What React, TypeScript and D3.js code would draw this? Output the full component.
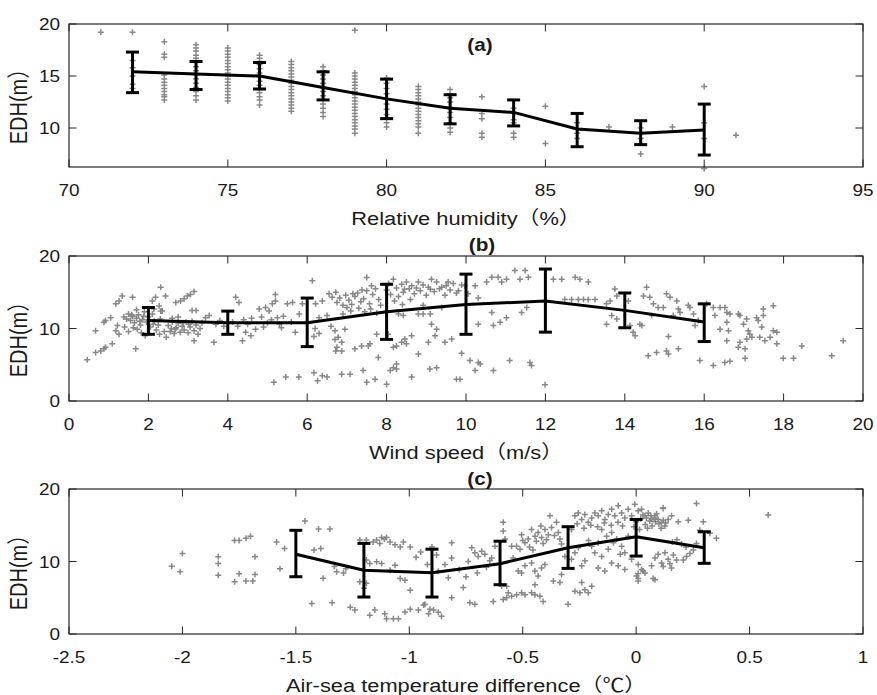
import React from "react";
import * as d3 from "d3";

// ---------- Panel (a): relative humidity ----------
const rhTicks = [70, 75, 80, 85, 90, 95];
const rhYTicks = [10, 15, 20];
const rhBinX = [72, 74, 76, 78, 80, 82, 84, 86, 88, 90];
const rhMean = [15.4, 15.2, 15.0, 13.9, 12.8, 11.9, 11.5, 9.9, 9.5, 9.8];
const rhUpper = [17.3, 16.4, 16.3, 15.4, 14.7, 13.2, 12.7, 11.4, 10.7, 12.3];
const rhLower = [13.4, 13.7, 13.75, 12.7, 10.9, 10.4, 10.2, 8.2, 8.4, 7.4];
const rhColumns: [number, number[]][] = [
  [71, [19.2]],
  [72, [19.2, 16.5, 15.8, 15.0, 14.2, 13.8]],
  [73, [18.3, 17.1, 16.8, 15.1, 14.7, 14.4, 14.1, 13.8, 13.5, 13.2, 13.0, 12.7]],
  [74, [18.0, 17.7, 17.4, 17.0, 16.7, 16.3, 15.9, 15.5, 15.1, 14.7, 14.3, 13.9, 13.5, 13.1, 12.7]],
  [75, [17.7, 17.4, 17.1, 16.8, 16.5, 16.2, 15.9, 15.6, 15.3, 15.0, 14.7, 14.4, 14.1, 13.8, 13.5, 13.2, 12.9, 12.6]],
  [76, [17.0, 16.7, 16.4, 16.1, 15.7, 15.3, 14.9, 14.5, 14.1, 13.7, 13.4, 13.0, 12.7, 12.2]],
  [77, [16.4, 16.1, 15.8, 15.5, 15.2, 14.9, 14.6, 14.3, 14.0, 13.7, 13.4, 13.1, 12.8, 12.5, 12.2, 11.9, 11.6]],
  [78, [15.9, 15.5, 15.1, 14.7, 14.3, 13.9, 13.5, 13.1, 12.7, 12.3, 11.9, 11.5, 11.1]],
  [79, [19.4, 15.3, 15.0, 14.7, 14.4, 14.1, 13.8, 13.5, 13.2, 12.9, 12.6, 12.3, 12.0, 11.7, 11.4, 11.1, 10.8, 10.5, 10.2, 9.9, 9.5]],
  [80, [14.8, 14.3, 13.8, 13.3, 12.8, 12.3, 11.8, 11.3, 10.9, 10.5, 10.1]],
  [81, [14.0, 13.7, 13.4, 13.1, 12.8, 12.5, 12.2, 11.9, 11.6, 11.3, 11.0, 10.7, 10.4, 10.1, 9.5]],
  [82, [13.7, 13.3, 12.9, 12.5, 12.0, 11.5, 11.0, 10.5, 10.0, 9.6]],
  [83, [13.0, 11.4, 10.9, 9.5, 9.1]],
  [84, [11.9, 10.8, 10.5, 9.5, 9.1]],
  [85, [12.1, 8.5]],
  [86, [10.5, 9.5, 9.0]],
  [87, [10.1]],
  [88, [7.5, 10.0, 9.0]],
  [89, [10.1]],
  [90, [14.0, 6.1, 10.5, 9.0]],
  [91, [9.3]],
];

// ---------- Panel (b): wind speed ----------
const wsTicks = [0, 2, 4, 6, 8, 10, 12, 14, 16, 18, 20];
const wsYTicks = [0, 10, 20];
const wsBinX = [2, 4, 6, 8, 10, 12, 14, 16];
const wsMean = [11.1, 10.8, 10.8, 12.3, 13.3, 13.8, 12.5, 10.9];
const wsUpper = [12.9, 12.4, 14.2, 16.1, 17.5, 18.2, 14.9, 13.4];
const wsLower = [9.2, 9.2, 7.5, 8.5, 9.2, 9.5, 10.1, 8.2];
const wsPoints: [number, number][] = [
  [0.46, 5.7], [0.67, 6.7], [0.8, 6.9], [0.88, 7.2], [0.92, 7.4], [1.09, 7.9], [0.67, 9.7], [0.88, 10.85], [0.92, 11.1], [1.05, 11.5],
  [1.18, 9.7], [1.22, 10.4], [1.26, 9.2], [1.18, 13.4], [1.26, 13.8], [1.34, 14.5], [1.6, 14.3],
  [1.38, 11.6], [1.45, 11.3], [1.5, 12.0], [1.55, 11.1], [1.6, 11.7], [1.65, 10.8], [1.7, 11.4], [1.75, 11.9], [1.8, 10.5], [1.85, 11.2],
  [1.9, 12.3], [1.95, 10.9], [2.0, 11.6], [2.05, 10.2], [2.1, 12.0], [2.15, 11.0], [2.2, 9.8], [1.4, 10.2], [1.5, 9.6], [1.62, 10.1],
  [1.72, 9.9], [1.82, 9.4], [1.92, 9.0], [2.25, 10.5], [2.3, 11.3], [2.35, 12.4], [2.4, 9.6], [1.68, 7.2], [1.7, 12.6], [1.58, 11.9],
  [1.78, 11.0], [1.88, 11.7], [2.12, 10.6], [2.28, 9.2],
  [2.1, 13.8], [2.18, 14.3], [2.31, 15.7], [2.43, 14.5], [2.14, 12.7], [2.27, 13.1], [2.31, 12.4],
  [2.69, 13.6], [2.81, 13.8], [2.9, 14.1], [2.98, 14.5], [3.06, 14.7], [3.15, 15.1],
  [2.5, 10.4], [2.55, 9.6], [2.6, 10.9], [2.65, 9.3], [2.7, 10.1], [2.75, 10.7], [2.8, 9.5], [2.85, 10.3], [2.9, 9.8], [2.95, 10.9],
  [3.0, 9.4], [3.05, 10.2], [3.1, 11.0], [3.15, 9.7], [3.2, 10.5], [3.25, 9.2], [3.3, 10.0], [3.35, 10.8], [2.6, 11.4], [2.75, 11.6],
  [3.1, 12.5], [3.2, 12.5], [3.15, 8.3], [2.45, 8.8], [2.58, 10.0], [2.88, 10.8], [3.02, 10.6], [2.68, 9.9],
  [3.44, 11.5], [3.53, 11.8], [3.65, 8.1], [3.7, 10.6], [3.8, 11.1], [3.9, 10.3],
  [4.2, 14.3], [4.28, 13.6], [4.12, 10.9], [4.25, 10.3], [4.4, 11.2], [4.5, 10.6], [4.6, 11.4], [4.7, 9.9], [4.37, 8.3], [4.58, 9.0], [4.45, 9.5],
  [4.79, 12.7], [4.95, 12.9], [5.04, 12.4], [5.12, 13.4], [5.2, 14.7], [5.2, 13.8], [4.85, 11.6], [5.0, 10.8], [5.1, 11.2], [5.3, 10.6],
  [5.35, 10.1], [5.5, 13.4], [5.63, 13.6], [5.8, 12.0], [5.88, 13.4], [5.4, 11.7], [5.6, 10.9], [5.7, 9.5], [4.9, 10.2], [5.25, 11.5],
  [6.13, 16.6], [6.21, 13.4], [6.38, 13.8], [6.55, 14.8], [6.63, 14.3], [6.72, 15.0], [6.2, 10.0], [6.3, 9.3], [6.7, 8.5], [6.72, 6.9],
  [5.16, 2.6], [5.46, 3.3], [5.79, 3.3], [6.17, 3.9], [6.26, 2.8], [6.38, 3.5], [6.5, 3.3],
  [6.17, 8.9], [6.3, 11.5], [6.5, 11.8], [6.6, 10.3],
  [6.75, 13.6], [6.82, 14.2], [6.9, 13.2], [6.97, 14.6], [7.05, 13.9], [7.12, 13.3], [7.2, 14.4], [7.27, 14.9], [7.35, 13.7], [7.42, 14.1],
  [7.5, 15.2], [7.57, 13.4], [7.65, 14.7], [7.72, 15.5], [7.8, 14.0], [7.1, 12.4], [7.3, 12.8], [7.45, 12.3], [7.6, 12.7], [7.75, 12.1],
  [6.9, 12.0], [7.0, 12.9], [7.5, 17.05], [7.15, 14.8], [7.38, 15.3], [7.62, 15.9], [7.85, 13.2],
  [8.0, 15.3], [8.05, 16.2], [8.1, 14.7], [8.17, 16.8], [8.25, 15.6], [8.3, 14.4], [8.38, 16.1], [8.42, 15.0], [8.5, 16.4], [8.57, 15.5],
  [8.63, 15.9], [8.7, 14.8], [8.8, 16.4], [8.85, 15.2], [8.92, 16.0], [9.0, 14.6], [9.05, 15.7], [9.13, 16.8], [9.2, 15.1], [9.26, 16.4],
  [9.33, 15.5], [9.39, 15.7], [9.47, 14.6], [9.55, 16.4], [9.6, 15.3], [9.68, 16.2], [9.76, 14.9], [9.81, 15.2], [9.89, 16.0], [9.97, 15.9],
  [10.05, 14.8], [8.45, 15.4], [8.75, 15.6], [9.1, 15.4], [9.5, 15.9],
  [8.2, 13.8], [8.4, 13.3], [8.6, 14.0], [8.92, 13.2], [9.1, 12.0], [9.39, 12.9], [8.3, 12.0], [8.8, 12.0],
  [10.23, 15.9], [10.31, 14.2], [10.52, 16.4], [10.65, 17.06], [10.81, 17.06], [10.9, 16.4], [11.02, 16.8], [11.23, 18.0], [11.36, 16.8],
  [11.49, 18.0], [11.57, 17.06],
  [12.2, 16.8], [12.41, 16.8], [12.75, 17.06], [12.87, 16.8], [13.08, 16.4],
  [12.49, 14.0], [12.66, 14.0], [12.83, 14.0], [12.96, 14.0], [13.08, 14.0], [13.25, 14.0],
  [6.7, 9.7], [6.78, 8.8], [6.87, 8.1], [6.75, 7.4], [6.95, 9.9], [6.87, 6.9],
  [7.2, 7.2], [7.37, 7.6], [7.54, 7.6], [7.58, 7.9],
  [7.75, 9.2], [8.04, 9.2], [8.17, 7.4], [8.25, 7.6], [8.38, 8.1], [8.46, 8.55], [8.5, 7.9], [8.63, 9.0],
  [8.8, 6.5], [9.05, 8.1], [9.22, 9.0], [9.26, 9.9], [9.13, 10.6], [9.47, 8.1], [9.64, 8.55],
  [8.42, 11.8], [8.92, 12.0],
  [10.31, 10.6], [10.65, 12.2], [10.69, 10.4], [10.86, 10.85], [11.02, 11.5], [11.4, 12.2], [11.53, 12.9],
  [7.79, 6.0], [8.17, 4.6], [8.25, 5.1],
  [6.87, 3.7], [7.08, 3.7], [7.41, 4.2], [7.5, 2.6], [7.71, 3.0], [8.0, 2.3], [8.09, 4.2], [8.25, 4.4], [8.63, 3.3], [9.09, 4.4], [9.26, 4.6],
  [9.76, 3.0], [9.85, 3.0], [9.89, 6.6], [10.1, 5.6], [10.31, 5.3], [10.36, 5.1], [10.23, 4.2], [10.69, 4.2], [11.1, 5.6], [11.61, 5.3], [11.65, 4.9],
  [11.99, 2.25],
  [13.54, 13.4], [13.63, 13.8], [13.75, 15.45], [13.8, 14.5], [13.67, 11.8], [13.54, 10.6], [13.8, 11.3],
  [14.09, 13.8], [14.13, 10.4], [14.21, 9.5], [14.26, 9.0], [14.38, 10.6], [14.43, 10.4],
  [14.47, 14.5], [14.55, 15.7], [14.63, 14.3], [14.72, 13.4], [14.68, 11.8], [14.84, 12.9], [14.97, 12.9], [15.05, 14.8], [15.14, 14.3],
  [15.31, 13.8], [15.22, 11.8], [15.39, 12.2], [15.35, 12.7], [15.6, 13.2], [15.64, 12.9], [15.73, 12.0], [15.77, 10.4], [15.85, 11.1],
  [14.59, 6.25], [14.8, 6.7], [15.05, 6.9], [15.1, 6.5], [15.35, 7.2], [15.1, 8.9],
  [15.89, 5.6], [16.23, 4.9], [16.52, 5.3], [16.65, 5.5], [17.03, 5.9],
  [16.06, 13.4], [16.23, 12.9], [16.4, 12.9], [16.52, 12.9], [16.57, 12.2], [16.65, 12.0], [16.27, 11.8],
  [16.57, 10.85], [16.61, 9.7], [16.57, 8.3], [16.4, 9.9],
  [16.86, 12.0], [16.9, 11.8], [16.99, 10.6], [17.07, 11.3], [17.11, 9.7], [17.15, 9.2], [17.2, 8.8], [17.32, 11.5], [17.36, 11.1],
  [17.49, 12.7], [17.49, 11.8], [17.74, 13.15], [17.45, 10.2], [17.4, 8.8], [17.53, 8.3], [17.66, 8.8], [17.74, 9.7], [17.83, 9.5],
  [16.9, 8.1], [16.86, 7.4], [17.03, 7.2], [17.07, 8.55],
  [17.83, 7.9], [17.99, 5.9], [18.25, 5.9], [18.46, 7.6], [19.21, 6.25], [19.5, 8.3],
];

// ---------- Panel (c): air-sea temperature difference ----------
const tdTicks = [-2.5, -2, -1.5, -1, -0.5, 0, 0.5, 1];
const tdYTicks = [0, 10, 20];
const tdBinX = [-1.5, -1.2, -0.9, -0.6, -0.3, 0, 0.3];
const tdMean = [11.0, 8.8, 8.45, 9.7, 11.9, 13.4, 11.9];
const tdUpper = [14.3, 12.5, 11.7, 12.8, 14.8, 15.8, 14.1];
const tdLower = [7.9, 5.1, 5.1, 6.8, 9.05, 10.75, 9.75];
const tdPoints: [number, number][] = [
  [-2.047, 9.36], [-2.01, 8.58], [-2.0, 11.1],
  [-1.842, 9.73], [-1.842, 10.65], [-1.842, 8.1],
  [-1.77, 12.9], [-1.75, 12.9], [-1.72, 13.2], [-1.7, 13.5], [-1.68, 10.65],
  [-1.77, 7.2], [-1.75, 8.3], [-1.72, 7.3], [-1.69, 7.3], [-1.68, 8.2],
  [-1.585, 12.7], [-1.55, 11.8], [-1.57, 9.0],
  [-1.46, 15.6], [-1.4, 14.5], [-1.35, 14.5],
  [-1.42, 11.6], [-1.39, 11.8], [-1.43, 4.2], [-1.34, 4.3], [-1.38, 7.7],
  [-1.33, 9.3], [-1.32, 8.6], [-1.29, 8.4], [-1.28, 9.0],
  [-1.26, 3.7], [-1.24, 3.3],
  [-1.218, 12.96], [-1.189, 12.96], [-1.159, 12.7], [-1.144, 12.96], [-1.122, 13.3], [-1.1, 13.3], [-1.085, 12.7], [-1.063, 12.3],
  [-1.04, 12.0], [-1.026, 12.7], [-0.996, 12.0], [-1.11, 13.1], [-1.13, 12.5],
  [-1.189, 10.2], [-1.174, 9.73], [-1.144, 9.96], [-1.122, 9.73], [-1.085, 8.8], [-1.063, 9.5], [-1.04, 7.66], [-1.019, 7.43], [-0.996, 6.05],
  [-1.218, 7.2], [-1.2, 6.3], [-1.189, 7.0],
  [-1.174, 2.6], [-1.152, 3.3], [-1.108, 2.8], [-1.1, 2.1], [-1.07, 2.1], [-1.048, 2.1], [-1.019, 3.05], [-0.996, 3.4], [-0.96, 3.3],
  [-0.937, 4.0], [-0.915, 2.8], [-0.893, 3.3],
  [-0.872, 8.67], [-0.843, 9.6], [-0.813, 10.5], [-0.813, 12.6], [-0.828, 7.75],
  [-0.909, 3.4], [-0.872, 3.0], [-0.858, 2.45], [-0.931, 4.1],
  [-0.78, 8.9], [-0.75, 7.9], [-0.7, 8.4], [-0.66, 9.2], [-0.74, 10.0], [-0.9, 12.0], [-0.88, 10.9], [-0.95, 11.3], [-0.97, 10.6], [-0.92, 9.6],
  [-0.813, 5.0], [-0.762, 6.4], [-0.725, 11.9], [-0.733, 4.3], [-0.711, 4.1], [-0.63, 4.5], [-0.586, 4.75], [-0.571, 6.6],
  [-0.711, 11.2], [-0.696, 10.7], [-0.681, 11.4], [-0.667, 11.0], [-0.645, 10.1], [-0.637, 10.5], [-0.622, 12.1],
  [-0.586, 15.4], [-0.586, 14.2], [-0.578, 13.1], [-0.549, 12.1], [-0.542, 10.5], [-0.527, 12.1], [-0.512, 11.7], [-0.505, 13.7],
  [-0.49, 12.6], [-0.476, 13.1], [-0.461, 14.4], [-0.446, 13.5], [-0.432, 14.0], [-0.417, 13.3], [-0.402, 14.4], [-0.387, 13.7],
  [-0.38, 16.3], [-0.373, 14.7], [-0.351, 15.4], [-0.343, 14.0], [-0.336, 13.1], [-0.329, 12.4], [-0.47, 12.0], [-0.44, 12.8],
  [-0.41, 12.5], [-0.395, 13.0], [-0.36, 13.6], [-0.42, 14.9], [-0.5, 12.9], [-0.455, 11.6],
  [-0.593, 6.6], [-0.564, 5.7], [-0.549, 5.2], [-0.527, 5.4], [-0.505, 5.7], [-0.49, 5.4], [-0.461, 5.7], [-0.446, 5.4], [-0.424, 5.2],
  [-0.41, 4.5], [-0.571, 5.0],
  [-0.52, 8.7], [-0.505, 8.4], [-0.49, 9.4], [-0.461, 9.8], [-0.446, 8.7], [-0.432, 8.0], [-0.417, 9.1], [-0.402, 9.6], [-0.446, 6.8],
  [-0.365, 7.3], [-0.336, 7.1], [-0.329, 8.2], [-0.3, 4.1], [-0.314, 10.7], [-0.285, 10.3], [-0.27, 11.2], [-0.255, 11.9], [-0.24, 9.4],
  [-0.226, 10.1], [-0.24, 7.1], [-0.27, 5.9], [-0.248, 5.7], [-0.226, 6.1], [-0.211, 5.7], [-0.196, 6.6],
  [-0.285, 14.4], [-0.27, 16.3], [-0.255, 16.7], [-0.24, 15.8], [-0.226, 16.5], [-0.211, 15.4], [-0.196, 16.0], [-0.182, 16.7],
  [-0.167, 16.3], [-0.152, 17.0], [-0.138, 15.8], [-0.123, 16.5], [-0.108, 17.2], [-0.094, 16.3], [-0.079, 17.7], [-0.064, 16.7],
  [-0.05, 16.0], [-0.035, 17.2], [-0.02, 16.3], [-0.006, 17.9], [0.009, 17.0], [0.024, 17.2], [0.039, 16.3], [0.053, 16.7], [0.068, 15.8],
  [0.083, 16.3], [0.097, 15.8], [0.112, 15.4], [0.119, 17.4], [0.127, 14.9], [0.141, 15.8], [0.156, 16.3],
  [-0.26, 15.2], [-0.23, 14.6], [-0.2, 15.0], [-0.17, 14.8], [-0.14, 15.3], [-0.11, 15.0], [-0.08, 15.4], [-0.06, 14.9],
  [-0.152, 14.4], [-0.13, 13.5], [-0.108, 14.0], [-0.086, 13.1], [-0.064, 12.1], [-0.05, 11.2], [-0.035, 13.5], [-0.167, 12.6],
  [-0.196, 12.1], [-0.182, 11.2], [-0.152, 10.7], [-0.123, 11.7], [-0.108, 9.8], [-0.079, 9.4], [-0.05, 8.9], [-0.02, 10.3],
  [-0.138, 8.7], [-0.167, 9.1], [0.009, 9.6], [0.031, 8.7], [0.039, 8.4], [0.068, 9.4], [0.083, 10.5], [0.097, 11.0], [0.112, 9.8],
  [0.127, 11.2], [0.141, 10.3], [0.156, 9.1], [0.164, 10.9], [-0.21, 12.9], [-0.1, 12.6], [-0.07, 11.0],
  [0.002, 8.0], [0.024, 8.9], [0.083, 7.5], [0.009, 7.3],
  [0.0, 15.5], [0.02, 15.9], [0.04, 15.1], [0.06, 15.6], [0.08, 16.0], [0.1, 15.2], [0.12, 15.7], [0.05, 14.6], [0.03, 16.4],
  [0.07, 14.9], [0.09, 16.6], [0.11, 14.6], [-0.01, 14.8], [0.015, 14.4], [0.13, 15.3], [0.045, 16.0], [0.085, 15.5], [0.065, 16.3],
  [0.119, 17.3], [0.186, 15.5], [0.23, 15.7], [0.266, 18.0], [0.296, 15.5], [0.281, 14.3], [0.266, 12.5], [0.252, 11.6], [0.222, 10.7],
  [0.208, 10.2], [0.237, 11.1], [0.325, 13.9], [0.354, 13.2], [0.582, 16.4], [0.149, 9.7], [0.119, 9.3], [0.178, 10.2],
  [0.075, 7.65], [0.009, 7.65], [0.009, 8.35], [0.2, 12.4], [0.18, 13.0], [0.22, 12.0], [0.16, 12.7],
];

const rhPoints: [number, number][] = rhColumns.flatMap(([x, ys]) => ys.map((y) => [x, y] as [number, number]));

const FONT = "'Liberation Sans', Arial, 'Noto Sans CJK SC', sans-serif";
const SX = 1.15;
const LEFT = 69;
const RIGHT = 863;

type PanelProps = {
  top: number;
  bottom: number;
  xDomain: [number, number];
  yDomain: [number, number];
  xTicks: number[];
  yTicks: number[];
  points: [number, number][];
  binX: number[];
  mean: number[];
  upper: number[];
  lower: number[];
  title: string;
  titleX: number;
  titleY: number;
  xLabel: string;
};

function Txt(props: { x: number; y: number; size: number; anchor?: string; weight?: string; rotate?: boolean; children: React.ReactNode }) {
  const { x, y, size, anchor = "middle", weight = "normal", rotate = false, children } = props;
  return (
    <text
      transform={`translate(${x},${y}) scale(${SX},1)${rotate ? " rotate(-90)" : ""}`}
      fontSize={size}
      fontFamily={FONT}
      fontWeight={weight}
      textAnchor={anchor}
      fill="#1a1a1a"
    >
      {children}
    </text>
  );
}

function Panel(p: PanelProps) {
  const x = d3.scaleLinear().domain(p.xDomain).range([LEFT, RIGHT]);
  const y = d3.scaleLinear().domain(p.yDomain).range([p.bottom, p.top]);
  const TL = 7.5;
  const cap = 6.5;
  const line = d3
    .line<number>()
    .x((_, i) => x(p.binX[i]))
    .y((d) => y(d));
  const plus = p.points
    .map(([a, b]) => {
      const px = x(a);
      const py = y(b);
      return `M${px - 3},${py}h6M${px},${py - 3}v6`;
    })
    .join("");
  return (
    <g>
      <rect x={LEFT} y={p.top} width={RIGHT - LEFT} height={p.bottom - p.top} fill="#fff" />
      <path d={plus} stroke="#888888" strokeWidth={1.5} fill="none" />
      <path d={line(p.mean) || ""} stroke="#000" strokeWidth={3} fill="none" strokeLinejoin="round" />
      {p.binX.map((bx, i) => {
        const cx = x(bx);
        const yt = y(p.upper[i]);
        const yb = y(p.lower[i]);
        return (
          <g key={i} stroke="#000" strokeWidth={3}>
            <line x1={cx} x2={cx} y1={yt} y2={yb} />
            <line x1={cx - cap} x2={cx + cap} y1={yt} y2={yt} />
            <line x1={cx - cap} x2={cx + cap} y1={yb} y2={yb} />
          </g>
        );
      })}
      <rect x={LEFT} y={p.top} width={RIGHT - LEFT} height={p.bottom - p.top} fill="none" stroke="#262626" strokeWidth={1.2} />
      {p.xTicks.map((t) => (
        <g key={`xt${t}`} stroke="#262626" strokeWidth={1}>
          <line x1={x(t)} x2={x(t)} y1={p.bottom} y2={p.bottom - TL} />
          <line x1={x(t)} x2={x(t)} y1={p.top} y2={p.top + TL} />
        </g>
      ))}
      {p.yTicks.map((t) => (
        <g key={`yt${t}`} stroke="#262626" strokeWidth={1}>
          <line x1={LEFT} x2={LEFT + TL} y1={y(t)} y2={y(t)} />
          <line x1={RIGHT} x2={RIGHT - TL} y1={y(t)} y2={y(t)} />
        </g>
      ))}
      {p.xTicks.map((t) => (
        <Txt key={`xl${t}`} x={x(t)} y={p.bottom + 29} size={16.5}>
          {String(t)}
        </Txt>
      ))}
      {p.yTicks.map((t) => (
        <Txt key={`yl${t}`} x={LEFT - 9} y={y(t) + 6} size={16.5} anchor="end">
          {String(t)}
        </Txt>
      ))}
      <Txt x={(LEFT + RIGHT) / 2} y={p.bottom + 58} size={19}>
        {p.xLabel}
      </Txt>
      <Txt x={27} y={(p.top + p.bottom) / 2 + 6} size={20} rotate>
        {"EDH(m）"}
      </Txt>
      <Txt x={p.titleX} y={p.titleY} size={18} weight="bold">
        {p.title}
      </Txt>
    </g>
  );
}

export default function App() {
  return (
    <svg
      width={877}
      height={695}
      viewBox="0 0 877 695"
      style={{ position: "fixed", left: 0, top: 0, display: "block", background: "#fff" }}
    >
      <rect width={877} height={695} fill="#fff" />
      <Panel
        top={24}
        bottom={167}
        xDomain={[70, 95]}
        yDomain={[6.25, 20]}
        xTicks={rhTicks}
        yTicks={rhYTicks}
        points={rhPoints}
        binX={rhBinX}
        mean={rhMean}
        upper={rhUpper}
        lower={rhLower}
        title="(a)"
        titleX={480}
        titleY={51}
        xLabel="Relative humidity（%）"
      />
      <Panel
        top={256}
        bottom={401}
        xDomain={[0, 20]}
        yDomain={[0, 20]}
        xTicks={wsTicks}
        yTicks={wsYTicks}
        points={wsPoints}
        binX={wsBinX}
        mean={wsMean}
        upper={wsUpper}
        lower={wsLower}
        title="(b)"
        titleX={482}
        titleY={251}
        xLabel="Wind speed（m/s）"
      />
      <Panel
        top={489}
        bottom={634}
        xDomain={[-2.5, 1]}
        yDomain={[0, 20]}
        xTicks={tdTicks}
        yTicks={tdYTicks}
        points={tdPoints}
        binX={tdBinX}
        mean={tdMean}
        upper={tdUpper}
        lower={tdLower}
        title="(c)"
        titleX={480}
        titleY={485}
        xLabel="Air-sea temperature difference（℃）"
      />
    </svg>
  );
}
